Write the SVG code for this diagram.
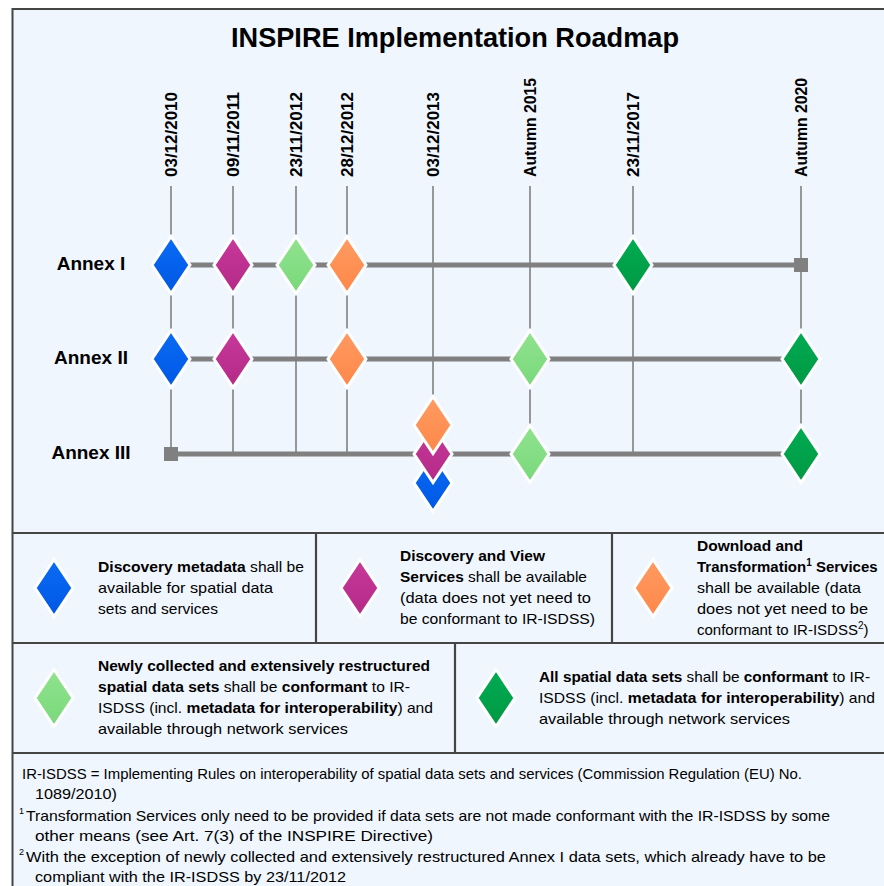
<svg xmlns="http://www.w3.org/2000/svg" xmlns:xlink="http://www.w3.org/1999/xlink" width="884" height="886" viewBox="0 0 884 886">
<style>
.frame{fill:#EFF6FE;stroke:#454545;stroke-width:2}
.sep{stroke:#454545;stroke-width:2.2;fill:none}
.vl{stroke:#777777;stroke-width:1.5;fill:none}
.hl{stroke:#808080;stroke-width:5;fill:none}
.sq{fill:#808080}
.dia{stroke:#FFFFFF;stroke-width:3}
.title{font-family:"Liberation Sans",Arial,sans-serif;font-weight:bold;font-size:28px;fill:#000}
.date{font-family:"Liberation Sans",Arial,sans-serif;font-weight:bold;font-size:16px;fill:#000}
.annex{font-family:"Liberation Sans",Arial,sans-serif;font-weight:bold;font-size:19px;fill:#000;text-anchor:middle}
.lg{font-family:"Liberation Sans",Arial,sans-serif;font-size:15px;fill:#000}
.fn{font-family:"Liberation Sans",Arial,sans-serif;font-size:15px;fill:#000}
.b{font-weight:bold}
.sup{font-size:10px}
.fsup{font-family:"Liberation Sans",Arial,sans-serif;font-size:9px;fill:#000}
</style>
<defs>
<linearGradient id="gBlue" x1="0" y1="0" x2="0" y2="1"><stop offset="0" stop-color="#0A6CF4"/><stop offset="1" stop-color="#0057E4"/></linearGradient>
<linearGradient id="gMag" x1="0" y1="0" x2="0" y2="1"><stop offset="0" stop-color="#C7389A"/><stop offset="1" stop-color="#B42A86"/></linearGradient>
<linearGradient id="gLG" x1="0" y1="0" x2="0" y2="1"><stop offset="0" stop-color="#90E38E"/><stop offset="1" stop-color="#79D87B"/></linearGradient>
<linearGradient id="gOr" x1="0" y1="0" x2="0" y2="1"><stop offset="0" stop-color="#FF9B62"/><stop offset="1" stop-color="#FF8749"/></linearGradient>
<linearGradient id="gDG" x1="0" y1="0" x2="0" y2="1"><stop offset="0" stop-color="#00AC52"/><stop offset="1" stop-color="#009843"/></linearGradient>
<path id="dia" class="dia" d="M0,-28.5 L19,0 L0,28.5 L-19,0 Z"/>
</defs>

<rect x="0" y="0" width="884" height="886" fill="#FFFFFF"/>
<rect class="frame" x="12.5" y="9" width="890" height="890"/>

<g id="legend-frame">
<line class="sep" x1="12" y1="533" x2="884" y2="533"/>
<line class="sep" x1="12" y1="643" x2="884" y2="643"/>
<line class="sep" x1="12" y1="753" x2="884" y2="753"/>
<line class="sep" x1="316" y1="533" x2="316" y2="643"/>
<line class="sep" x1="612" y1="533" x2="612" y2="643"/>
<line class="sep" x1="455" y1="643" x2="455" y2="753"/>
</g>

<text id="title" class="title" x="455" y="47" text-anchor="middle" textLength="448" lengthAdjust="spacingAndGlyphs">INSPIRE Implementation Roadmap</text>

<g id="dates">
<text class="date" transform="translate(177,177) rotate(-90)" textLength="85" lengthAdjust="spacingAndGlyphs">03/12/2010</text>
<text class="date" transform="translate(239,177) rotate(-90)" textLength="85" lengthAdjust="spacingAndGlyphs">09/11/2011</text>
<text class="date" transform="translate(302,177) rotate(-90)" textLength="85" lengthAdjust="spacingAndGlyphs">23/11/2012</text>
<text class="date" transform="translate(353,177) rotate(-90)" textLength="85" lengthAdjust="spacingAndGlyphs">28/12/2012</text>
<text class="date" transform="translate(439,177) rotate(-90)" textLength="85" lengthAdjust="spacingAndGlyphs">03/12/2013</text>
<text class="date" transform="translate(536,177) rotate(-90)" textLength="99" lengthAdjust="spacingAndGlyphs">Autumn 2015</text>
<text class="date" transform="translate(639,177) rotate(-90)" textLength="85" lengthAdjust="spacingAndGlyphs">23/11/2017</text>
<text class="date" transform="translate(807,177) rotate(-90)" textLength="99" lengthAdjust="spacingAndGlyphs">Autumn 2020</text>
</g>

<g id="annex-labels">
<text class="annex" x="91" y="270">Annex I</text>
<text class="annex" x="91" y="364">Annex II</text>
<text class="annex" x="91" y="459">Annex III</text>
</g>

<g id="connectors">
<line class="vl" x1="171" y1="186" x2="171" y2="454"/>
<line class="vl" x1="233" y1="186" x2="233" y2="454"/>
<line class="vl" x1="296" y1="186" x2="296" y2="454"/>
<line class="vl" x1="347" y1="186" x2="347" y2="454"/>
<line class="vl" x1="433" y1="186" x2="433" y2="410"/>
<line class="vl" x1="530" y1="186" x2="530" y2="454"/>
<line class="vl" x1="633" y1="186" x2="633" y2="454"/>
<line class="vl" x1="801" y1="186" x2="801" y2="454"/>
<line class="hl" x1="171" y1="265" x2="801" y2="265"/>
<line class="hl" x1="171" y1="359" x2="801" y2="359"/>
<line class="hl" x1="171" y1="454" x2="801" y2="454"/>
<rect class="sq" x="794" y="258" width="14" height="14"/>
<rect class="sq" x="164" y="447" width="14" height="14"/>
</g>

<g id="annex1-milestones">
<use href="#dia" x="171" y="265" fill="url(#gBlue)"/>
<use href="#dia" x="233" y="265" fill="url(#gMag)"/>
<use href="#dia" x="296" y="265" fill="url(#gLG)"/>
<use href="#dia" x="347" y="265" fill="url(#gOr)"/>
<use href="#dia" x="633" y="265" fill="url(#gDG)"/>
</g>
<g id="annex2-milestones">
<use href="#dia" x="171" y="359" fill="url(#gBlue)"/>
<use href="#dia" x="233" y="359" fill="url(#gMag)"/>
<use href="#dia" x="347" y="359" fill="url(#gOr)"/>
<use href="#dia" x="530" y="359" fill="url(#gLG)"/>
<use href="#dia" x="801" y="359" fill="url(#gDG)"/>
</g>
<g id="annex3-milestones">
<use href="#dia" x="433" y="483" fill="url(#gBlue)"/>
<use href="#dia" x="433" y="454" fill="url(#gMag)"/>
<use href="#dia" x="433" y="425" fill="url(#gOr)"/>
<use href="#dia" x="530" y="454" fill="url(#gLG)"/>
<use href="#dia" x="801" y="454" fill="url(#gDG)"/>
</g>

<g id="legend-discovery-metadata">
<use href="#dia" x="54" y="588" fill="url(#gBlue)"/>
<text class="lg" x="98" y="572" textLength="206" lengthAdjust="spacingAndGlyphs"><tspan class="b">Discovery metadata</tspan> shall be</text>
<text class="lg" x="98" y="593" textLength="175" lengthAdjust="spacingAndGlyphs">available for spatial data</text>
<text class="lg" x="98" y="614" textLength="120" lengthAdjust="spacingAndGlyphs">sets and services</text>
</g>

<g id="legend-discovery-view">
<use href="#dia" x="360" y="588" fill="url(#gMag)"/>
<text class="lg b" x="400" y="561" textLength="145" lengthAdjust="spacingAndGlyphs">Discovery and View</text>
<text class="lg" x="400" y="582" textLength="187" lengthAdjust="spacingAndGlyphs"><tspan class="b">Services</tspan> shall be available</text>
<text class="lg" x="400" y="603" textLength="191" lengthAdjust="spacingAndGlyphs">(data does not yet need to</text>
<text class="lg" x="400" y="624" textLength="195" lengthAdjust="spacingAndGlyphs">be conformant to IR-ISDSS)</text>
</g>

<g id="legend-download">
<use href="#dia" x="653" y="588" fill="url(#gOr)"/>
<text class="lg b" x="697" y="551" textLength="106" lengthAdjust="spacingAndGlyphs">Download and</text>
<text class="lg b" x="697" y="572">Transformation<tspan class="sup" dy="-6">1</tspan><tspan dy="6"> Services</tspan></text>
<text class="lg" x="697" y="593" textLength="164" lengthAdjust="spacingAndGlyphs">shall be available (data</text>
<text class="lg" x="697" y="614" textLength="171" lengthAdjust="spacingAndGlyphs">does not yet need to be</text>
<text class="lg" x="697" y="635">conformant to IR-ISDSS<tspan class="sup" dy="-6">2</tspan><tspan dy="6">)</tspan></text>
</g>

<g id="legend-new-data">
<use href="#dia" x="54" y="698" fill="url(#gLG)"/>
<text class="lg b" x="98" y="671" textLength="332" lengthAdjust="spacingAndGlyphs">Newly collected and extensively restructured</text>
<text class="lg" x="98" y="692" textLength="312" lengthAdjust="spacingAndGlyphs"><tspan class="b">spatial data sets</tspan> shall be <tspan class="b">conformant</tspan> to IR-</text>
<text class="lg" x="98" y="713" textLength="335" lengthAdjust="spacingAndGlyphs">ISDSS (incl. <tspan class="b">metadata for interoperability</tspan>) and</text>
<text class="lg" x="98" y="734" textLength="250" lengthAdjust="spacingAndGlyphs">available through network services</text>
</g>

<g id="legend-all-data">
<use href="#dia" x="496" y="698" fill="url(#gDG)"/>
<text class="lg" x="539" y="682" textLength="331" lengthAdjust="spacingAndGlyphs"><tspan class="b">All spatial data sets</tspan> shall be <tspan class="b">conformant</tspan> to IR-</text>
<text class="lg" x="539" y="703" textLength="336" lengthAdjust="spacingAndGlyphs">ISDSS (incl. <tspan class="b">metadata for interoperability</tspan>) and</text>
<text class="lg" x="539" y="724" textLength="251" lengthAdjust="spacingAndGlyphs">available through network services</text>
</g>

<g id="footnotes">
<text class="fn" x="22" y="779" textLength="780" lengthAdjust="spacingAndGlyphs">IR-ISDSS = Implementing Rules on interoperability of spatial data sets and services (Commission Regulation (EU) No.</text>
<text class="fn" x="35" y="799" textLength="82" lengthAdjust="spacingAndGlyphs">1089/2010)</text>
<text class="fsup" x="19" y="814">1</text>
<text class="fn" x="26" y="821" textLength="804" lengthAdjust="spacingAndGlyphs">Transformation Services only need to be provided if data sets are not made conformant with the IR-ISDSS by some</text>
<text class="fn" x="35" y="841" textLength="398" lengthAdjust="spacingAndGlyphs">other means (see Art. 7(3) of the INSPIRE Directive)</text>
<text class="fsup" x="19" y="855">2</text>
<text class="fn" x="26" y="862" textLength="800" lengthAdjust="spacingAndGlyphs">With the exception of newly collected and extensively restructured Annex I data sets, which already have to be</text>
<text class="fn" x="35" y="882" textLength="311" lengthAdjust="spacingAndGlyphs">compliant with the IR-ISDSS by 23/11/2012</text>
</g>
</svg>
